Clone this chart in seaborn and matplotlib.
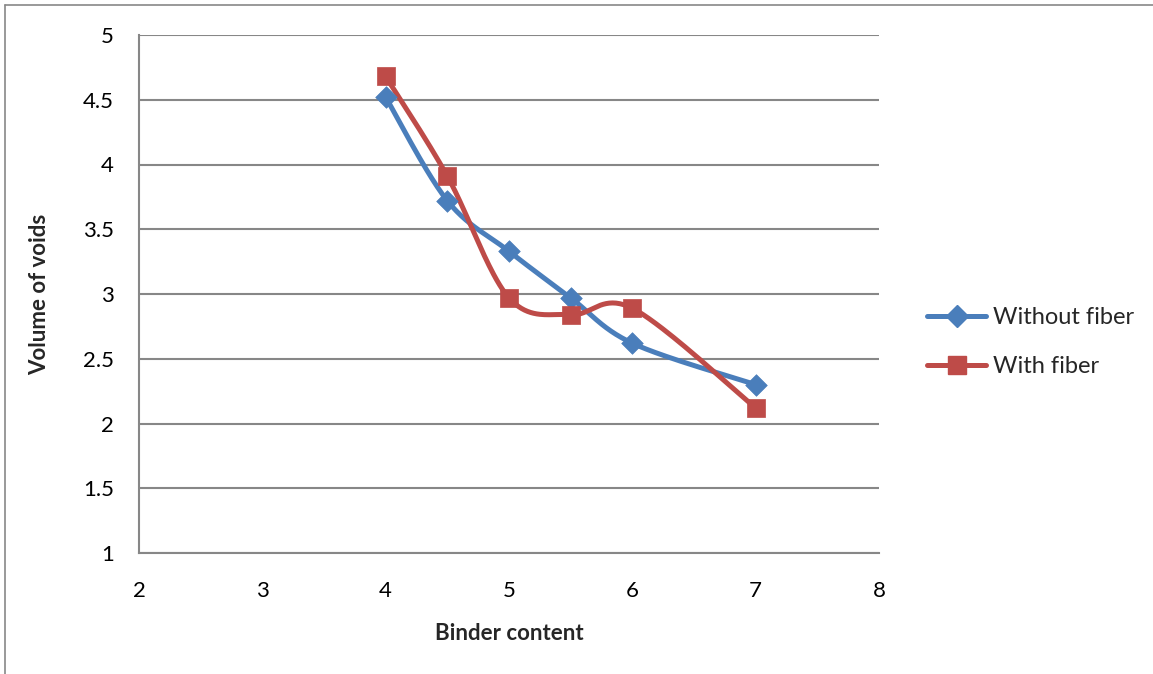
import numpy as np
import pandas as pd
import matplotlib
matplotlib.use("Agg")
import matplotlib.pyplot as plt
from matplotlib.lines import Line2D
import seaborn as sns

# Measured data
binder_content = [4.0, 4.5, 5.0, 5.5, 6.0, 7.0]
voids_without_fiber = [4.52, 3.72, 3.33, 2.97, 2.62, 2.30]
voids_with_fiber = [4.68, 3.91, 2.97, 2.84, 2.89, 2.12]
series_names = ["Without fiber", "With fiber"]
x_ticks = [2, 3, 4, 5, 6, 7, 8]
y_ticks = [1, 1.5, 2, 2.5, 3, 3.5, 4, 4.5, 5]

BLUE = "#4A7EBB"
RED = "#BE4B48"
GRID = "#878787"

sns.set_theme(style="white")
plt.rcParams["font.family"] = ["Lato", "DejaVu Sans"]

fig = plt.figure(figsize=(11.53, 6.74), dpi=100)
ax = fig.add_axes([139 / 1153, 1 - 553 / 674, (879 - 139) / 1153, (553 - 35) / 674])

XLIM = (2, 8)
YLIM = (1, 5)
ax_w_px, ax_h_px = 879 - 139, 553 - 35


def smooth_curve(xs, ys, n=40):
    """Catmull-Rom spline through the points, evaluated in screen proportions."""
    sx = ax_w_px / (XLIM[1] - XLIM[0])
    sy = ax_h_px / (YLIM[1] - YLIM[0])
    P = np.column_stack([np.asarray(xs) * sx, np.asarray(ys) * sy])
    P = np.vstack([P[0], P, P[-1]])
    out = []
    for i in range(1, len(P) - 2):
        p0, p1, p2, p3 = P[i - 1], P[i], P[i + 1], P[i + 2]
        c1 = p1 + (p2 - p0) / 6.0
        c2 = p2 - (p3 - p1) / 6.0
        t = np.linspace(0, 1, n, endpoint=(i == len(P) - 3))[:, None]
        b = ((1 - t) ** 3) * p1 + 3 * ((1 - t) ** 2) * t * c1 + 3 * (1 - t) * t ** 2 * c2 + t ** 3 * p2
        out.append(b)
    out = np.vstack(out)
    return out[:, 0] / sx, out[:, 1] / sy


series = [
    (series_names[0], voids_without_fiber, BLUE, "D", 11),
    (series_names[1], voids_with_fiber, RED, "s", 13),
]

handles = []
for name, vals, color, marker, msize in series:
    cx, cy = smooth_curve(binder_content, vals)
    curve = pd.DataFrame({"x": cx, "y": cy})
    sns.lineplot(data=curve, x="x", y="y", ax=ax, color=color, linewidth=3.6,
                 sort=False, estimator=None, zorder=3)
    pts = pd.DataFrame({"x": binder_content, "y": vals})
    sns.scatterplot(data=pts, x="x", y="y", ax=ax, color=color, marker=marker,
                    s=msize ** 2, edgecolor=color, linewidth=0.5, zorder=4)
    handles.append(Line2D([], [], color=color, linewidth=3.6, marker=marker,
                          markersize=msize, markeredgecolor=color, label=name))

ax.set_xlim(*XLIM)
ax.set_ylim(*YLIM)
ax.set_xticks(x_ticks)
ax.set_yticks(y_ticks)
ax.set_xticklabels([str(v) for v in x_ticks])
ax.set_yticklabels([f"{v:g}" for v in y_ticks])
ax.tick_params(axis="both", length=0, labelsize=16, colors="black")
ax.tick_params(axis="x", pad=20)
ax.tick_params(axis="y", pad=18)

ax.grid(axis="y", color=GRID, linewidth=1.5)
ax.grid(axis="x", visible=False)
ax.set_axisbelow(True)
for side in ("top", "right"):
    ax.spines[side].set_visible(False)
for side in ("left", "bottom"):
    ax.spines[side].set_color(GRID)
    ax.spines[side].set_linewidth(1.5)

ax.set_xlabel("Binder content", fontsize=16, fontweight="bold", labelpad=16)
ax.set_ylabel("Volume of voids", fontsize=16, fontweight="bold", labelpad=24)

fig.legend(handles=handles, loc="center left", bbox_to_anchor=(906 / 1153, 1 - 342 / 674),
           frameon=False, fontsize=17, handlelength=2.5, labelspacing=1.2,
           handletextpad=0.3)

# Chart area outline
fig.add_artist(Line2D([5 / 1153, 5 / 1153], [0, 1 - 5 / 674], transform=fig.transFigure,
                      color=GRID, linewidth=1.2))
fig.add_artist(Line2D([5 / 1153, 1], [1 - 5 / 674, 1 - 5 / 674], transform=fig.transFigure,
                      color=GRID, linewidth=1.2))

fig.savefig("out.png", dpi=100, facecolor="white")
